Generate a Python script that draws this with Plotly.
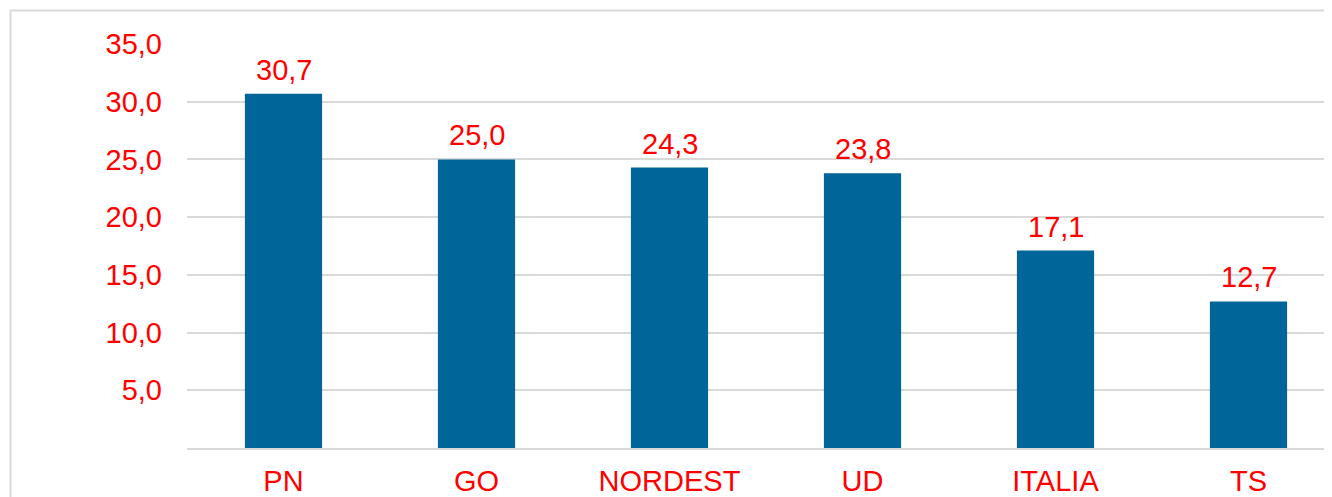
import plotly.graph_objects as go

categories = ["PN", "GO", "NORDEST", "UD", "ITALIA", "TS"]
values = [30.7, 25.0, 24.3, 23.8, 17.1, 12.7]
tick_values = [5, 10, 15, 20, 25, 30, 35]

RED = "#ff0000"
BAR = "#006699"
GRID = "#d9d9d9"
FONT = "Liberation Sans, Arial, sans-serif"

fig = go.Figure()
fig.add_trace(go.Bar(
    x=categories, y=values, marker=dict(color=BAR, line=dict(width=0)),
    width=0.4, hoverinfo="skip",
))

for c, v in zip(categories, values):
    fig.add_annotation(
        x=c, y=v, text=f"{v:.1f}".replace(".", ","), showarrow=False,
        yanchor="bottom", yshift=6,
        font=dict(family=FONT, size=29, color=RED),
    )

# page has an 8px body margin; figure sized to end at the window edge
W, H = 1324, 489
L, T, B = 179, 36, 49
pw = W - L
ph = H - T - B
bx = (2.5 - L) / pw
by = (H - B - 2.5) / ph

fig.add_shape(type="path", xref="paper", yref="paper",
              path=f"M {bx},-0.5 L {bx},{by} L 1.2,{by}",
              line=dict(color=GRID, width=2))

fig.update_layout(
    width=W, height=H,
    margin=dict(l=L, r=0, t=T, b=B, autoexpand=False),
    paper_bgcolor="white", plot_bgcolor="white",
    showlegend=False,
    separators=",.",
    xaxis=dict(
        range=[-0.5, -0.5 + pw / 193.0], automargin=False,
        showgrid=False, showline=True, linecolor=GRID, linewidth=2,
        ticks="", ticklabelstandoff=6,
        tickfont=dict(family=FONT, size=29, color=RED),
    ),
    yaxis=dict(
        range=[0, 35], tickvals=tick_values, tickformat=".1f", automargin=False,
        showgrid=True, gridcolor=GRID, gridwidth=2,
        zeroline=False, showline=False, ticks="",
        ticklabelstandoff=24,
        tickfont=dict(family=FONT, size=29, color=RED),
    ),
)

fig.write_html("out.html")
